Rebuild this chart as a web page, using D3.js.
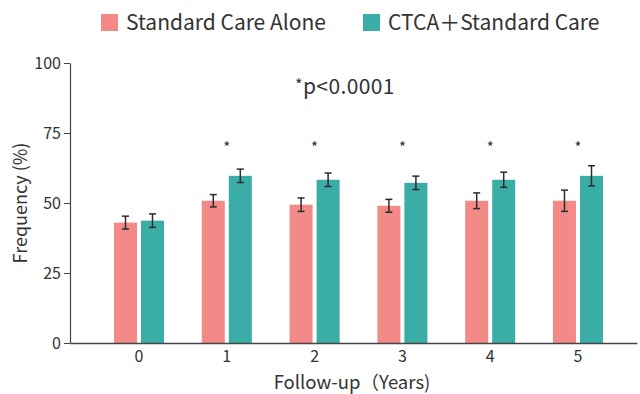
<!DOCTYPE html>
<html>
<head>
<meta charset="utf-8">
<script src="https://cdn.jsdelivr.net/npm/d3@7"></script>
<style>
  body { margin: 0; background: #fff; }
  text { font-family: "Noto Sans CJK SC", "Noto Sans", sans-serif; }
</style>
</head>
<body>
<svg width="640" height="394"></svg>
<script>
// data
const years = ['0', '1', '2', '3', '4', '5'];
const seriesNames = ['Standard Care Alone', 'CTCA\uFF0BStandard Care'];
const aloneValues = [43.0, 50.8, 49.4, 49.0, 50.8, 50.8];
const aloneErrors = [2.3, 2.2, 2.4, 2.3, 2.8, 3.8];
const ctcaValues = [43.7, 59.7, 58.3, 57.2, 58.3, 59.7];
const ctcaErrors = [2.4, 2.4, 2.4, 2.4, 2.7, 3.6];
const significant = [false, true, true, true, true, true];
const yTicks = [0, 25, 50, 75, 100];

const colors = ['#F48A87', '#3AADA6'];

const margin = { top: 63, right: 3, bottom: 51, left: 70 };
const width = 640 - margin.left - margin.right;
const height = 394 - margin.top - margin.bottom;

const svg = d3.select('svg')
  .append('g')
    .attr('transform', 'translate(' + margin.left + ',' + margin.top + ')');

// scales
const x = d3.scaleBand()
  .domain(years)
  .range([0, width])
  .paddingInner(0.43)
  .paddingOuter(0.444)
  .align(0.564);

const xSub = d3.scaleBand()
  .domain([0, 1])
  .range([0, x.bandwidth()])
  .paddingInner(0.148);

const y = d3.scaleLinear().domain([0, 100]).range([height, 0]);

// build rows for bars
const rows = [];
years.forEach((yr, i) => {
  rows.push({ year: yr, s: 0, v: aloneValues[i], e: aloneErrors[i] });
  rows.push({ year: yr, s: 1, v: ctcaValues[i], e: ctcaErrors[i] });
});

// bars
svg.selectAll('rect.bar')
  .data(rows)
  .enter().append('rect')
    .attr('class', 'bar')
    .attr('x', (d) => x(d.year) + xSub(d.s))
    .attr('y', (d) => y(d.v))
    .attr('width', xSub.bandwidth())
    .attr('height', (d) => y(0) - y(d.v))
    .attr('fill', (d) => colors[d.s]);

// error bars
const err = svg.selectAll('g.err')
  .data(rows)
  .enter().append('g')
    .attr('class', 'err')
    .attr('transform', (d) => 'translate(' + (x(d.year) + xSub(d.s) + xSub.bandwidth() / 2) + ',0)');

err.append('line')
  .attr('y1', (d) => y(d.v + d.e))
  .attr('y2', (d) => y(d.v - d.e))
  .style('stroke', '#2b2b2b')
  .style('stroke-width', 1.5);

err.selectAll('line.cap')
  .data((d) => [d.v + d.e, d.v - d.e])
  .enter().append('line')
    .attr('class', 'cap')
    .attr('x1', -3.5)
    .attr('x2', 3.5)
    .attr('y1', (d) => y(d))
    .attr('y2', (d) => y(d))
    .style('stroke', '#2b2b2b')
    .style('stroke-width', 1.5);

// significance stars
svg.selectAll('text.star')
  .data(years.filter((d, i) => significant[i]))
  .enter().append('text')
    .attr('class', 'star')
    .attr('x', (d) => x(d) + x.bandwidth() / 2)
    .attr('y', y(70) + 6)
    .attr('text-anchor', 'middle')
    .attr('fill', '#333')
    .style('font-size', '15px')
    .text('*');

const note = svg.append('text')
  .attr('x', 275)
  .attr('y', y(91) + 6)
  .attr('text-anchor', 'middle')
  .attr('fill', '#333')
  .style('font-size', '21px')
  .style('letter-spacing', '0.4px');
note.append('tspan').attr('dy', -3).style('font-size', '16px').text('*');
note.append('tspan').attr('dy', 3).text('p<0.0001');

// axes
const xAxis = svg.append('g')
  .attr('transform', 'translate(0,' + height + ')')
  .call(d3.axisBottom(x).tickSize(0).tickPadding(8));
xAxis.select('.domain').attr('stroke', '#444').attr('stroke-width', 1.5);
xAxis.selectAll('text').attr('fill', '#333').style('font-size', '16px');

const yAxis = svg.append('g')
  .call(d3.axisLeft(y).tickValues(yTicks).tickSize(6).tickPadding(3).tickSizeOuter(0));
yAxis.select('.domain').attr('stroke', '#444').attr('stroke-width', 1.2);
yAxis.selectAll('.tick line').attr('stroke', '#444');
yAxis.selectAll('text').attr('fill', '#333').style('font-size', '16px');

// axis titles
svg.append('text')
  .attr('x', 282)
  .attr('y', height + 46)
  .attr('text-anchor', 'middle')
  .attr('fill', '#333')
  .style('font-size', '18.5px')
  .text('Follow-up\uFF08Years)');

svg.append('text')
  .attr('transform', 'translate(-43,' + (height / 2) + ') rotate(-90)')
  .attr('text-anchor', 'middle')
  .attr('fill', '#333')
  .style('font-size', '18px')
  .text('Frequency (%)');

// legend
const legend = d3.select('svg').append('g');
const legendX = [101, 363];
seriesNames.forEach((name, i) => {
  legend.append('rect')
    .attr('x', legendX[i])
    .attr('y', 14)
    .attr('width', 17)
    .attr('height', 17)
    .attr('fill', colors[i]);
  legend.append('text')
    .attr('x', legendX[i] + 25)
    .attr('y', 30)
    .attr('fill', '#333')
    .style('font-size', '21px')
    .text(name);
});
</script>
</body>
</html>
